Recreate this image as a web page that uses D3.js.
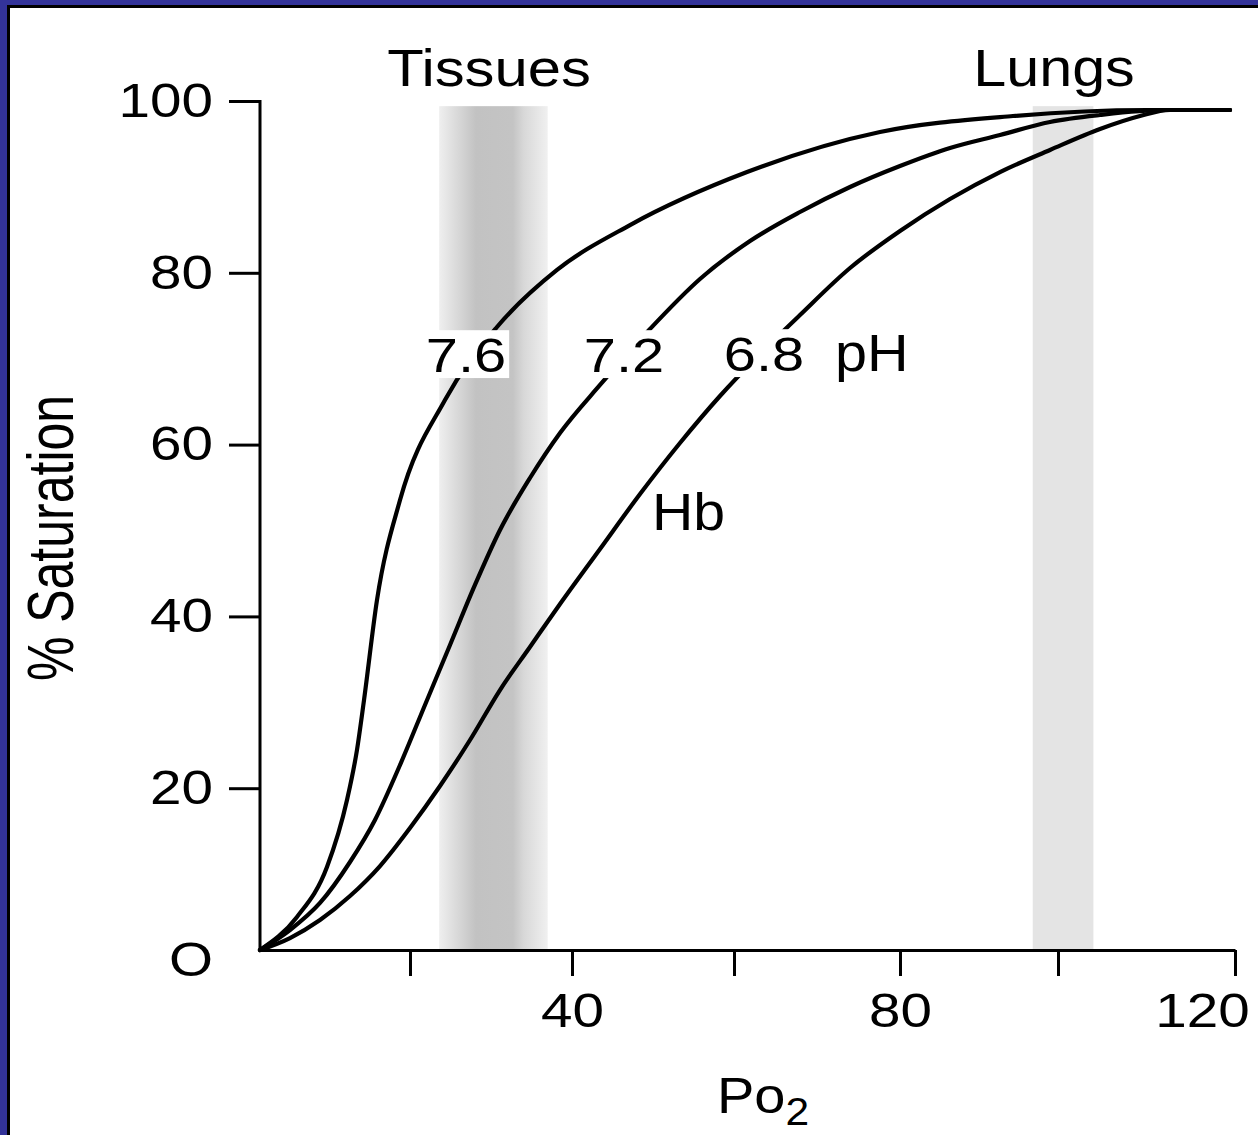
<!DOCTYPE html>
<html>
<head>
<meta charset="utf-8">
<script src="https://cdn.jsdelivr.net/npm/d3@7"></script>
<style>
    body { margin: 0; background: #fff; }
    svg { display: block; }
    text { font-family: "Liberation Sans", Arial, sans-serif; fill: #000; }
</style>
</head>
<body>
<svg id="chart"></svg>
<script>
/** Values (Po2 in mmHg, saturation in %) **/
var po2_ticks     = [0, 20, 40, 60, 80, 100, 120];
var po2_labelled  = [40, 80, 120];
var sat_ticks     = [0, 20, 40, 60, 80, 100];

var band_names = ["Tissues", "Lungs"];
var band_lo    = [23.6, 96.8];
var band_hi    = [37.0, 104.0];
var band_top   = 99.4;

// pH 7.6 (left curve)
var curve_ph76 = [[0,1.16],[4.93,5.01],[8.93,10.83],[11.6,18.63],[12.93,24.45],[13.87,30.27],
    [15.6,41.91],[18.67,53.55],[24.32,65.19],[30.74,73.69],[38.15,80.33],[47.16,85.56],
    [61.57,91.73],[77.59,96.39],[94.3,98.25],[110.06,98.95],[119.44,98.95]];

// pH 7.2 (middle curve)
var curve_ph72 = [[0,1.16],[4.0,3.49],[8.0,6.64],[12.0,11.41],[15.33,16.30],[18.67,22.70],
    [21.85,29.69],[24.94,36.67],[28.02,43.66],[31.11,50.06],[34.81,56.11],[38.52,61.35],
    [43.46,66.94],[49.63,73.46],[55.80,79.28],[61.93,83.70],[67.95,87.08],[73.98,89.99],
    [80.0,92.43],[86.33,94.53],[92.66,96.04],[98.99,97.56],[104.75,98.37],[112.09,98.95],
    [119.44,98.95]];

// pH 6.8 (right curve, "Hb")
var curve_ph68 = [[0,1.16],[4.0,2.56],[8.0,4.66],[12.0,7.45],[16.0,10.94],[20.0,15.37],
    [23.70,20.26],[27.41,25.61],[31.11,31.43],[34.81,36.44],[38.52,41.44],[43.46,47.85],
    [48.40,54.25],[53.33,60.19],[58.27,65.66],[63.13,70.55],[67.95,75.09],[73.98,80.56],
    [80.0,84.87],[86.33,88.59],[92.66,91.73],[98.99,94.30],[104.75,96.74],[109.27,98.25],
    [112.66,98.95],[119.44,98.95]];

var ph_labels = ["7.6", "7.2", "6.8"];


/** Layout **/
var W = 1258, H = 1135;
var X_KNOTS   = [260, 410, 572, 734, 900, 1058, 1235];   // hand-drawn axis spacing
var Y_RANGE   = [960, 101];
var X_AXIS_Y  = 950;
var SXN = 1.18;     // horizontal stretch of the figure's lettering (numbers)
var SXT = 1.13;     // ... (words)
var line_w = 4.2;


var svg = d3.select("#chart")
    .attr("width", W)
    .attr("height", H);

// frame
svg.append("rect")
    .attr("width", W).attr("height", H)
    .attr("fill", "#333399");
svg.append("rect")
    .attr("x", 8.5).attr("y", 6.5)
    .attr("width", W).attr("height", H)
    .attr("fill", "#fff")
    .attr("stroke", "#000")
    .attr("stroke-width", 3);

var x = d3.scaleLinear().domain(po2_ticks).range(X_KNOTS);
var y = d3.scaleLinear().domain([0, 100]).range(Y_RANGE);


// gradient for the tissue band
var grad = svg.append("defs").append("linearGradient")
    .attr("id", "tissueGrad")
    .attr("x1", "0%").attr("x2", "100%")
    .attr("y1", "0%").attr("y2", "0%");
[[0, "#efefef"], [0.34, "#c2c2c2"], [0.68, "#c4c4c4"], [0.78, "#d8d8d8"], [1, "#f0f0f0"]]
    .forEach(function (s) {
        grad.append("stop").attr("offset", s[0]).attr("stop-color", s[1]);
    });

var band_fill = ["url(#tissueGrad)", "#e4e4e4"];

svg.append("g").selectAll("rect")
    .data(band_names)
    .enter()
    .append("rect")
    .attr("x", function (d, i) { return x(band_lo[i]); })
    .attr("width", function (d, i) { return x(band_hi[i]) - x(band_lo[i]); })
    .attr("y", y(band_top))
    .attr("height", X_AXIS_Y - y(band_top))
    .attr("fill", function (d, i) { return band_fill[i]; });


// curves
var line = d3.line()
    .x(function (d) { return x(d[0]); })
    .y(function (d) { return y(d[1]); })
    .curve(d3.curveMonotoneX);

svg.append("g").selectAll("path")
    .data([curve_ph76, curve_ph72, curve_ph68])
    .enter()
    .append("path")
    .attr("d", line)
    .attr("fill", "none")
    .attr("stroke", "#000")
    .attr("stroke-width", line_w)
    .attr("stroke-linejoin", "round")
    .attr("stroke-linecap", "round");


// pH labels with white boxes that break the curves
var ph_pos = [[466, 372], [624, 372], [764, 371]];

ph_labels.forEach(function (lab, i) {
    var g = svg.append("g")
        .attr("transform", "translate(" + ph_pos[i][0] + "," + ph_pos[i][1] + ") scale(" + SXN + ",1)");
    var box = g.append("rect").attr("fill", "#fff");
    var t = g.append("text")
        .attr("text-anchor", "middle")
        .attr("font-size", 49)
        .text(lab);
    var bb = t.node().getBBox();
    box.attr("x", bb.x - 3 / SXN)
        .attr("width", bb.width + 6 / SXN)
        .attr("y", bb.y + 3)
        .attr("height", bb.height - 7);
});

function word(txt, px, py, size, anchor, sx) {
    return svg.append("text")
        .attr("transform", "translate(" + px + "," + py + ") scale(" + sx + ",1)")
        .attr("text-anchor", anchor)
        .attr("font-size", size)
        .text(txt);
}

word("pH", 835, 371, 51, "start", SXT);
word("Hb", 652, 530, 52, "start", 1.1);
word("Tissues", 489, 86, 52, "middle", 1.15);
word("Lungs", 1054, 86, 52, "middle", 1.14);

// x label Po2
var po = svg.append("text")
    .attr("transform", "translate(717,1113) scale(1.12,1)")
    .attr("font-size", 50);
po.append("tspan").text("Po");
po.append("tspan").attr("font-size", 38).attr("dy", 12).text("2");

// y label
svg.append("text")
    .attr("transform", "translate(73,538) scale(1.28,1) rotate(-90)")
    .attr("text-anchor", "middle")
    .attr("font-size", 50)
    .text("% Saturation");


// axes
var xAxis = d3.axisBottom(x)
    .tickValues(po2_ticks.slice(1))
    .tickSize(26)
    .tickPadding(17)
    .tickSizeOuter(0)
    .tickFormat(function (d) { return po2_labelled.indexOf(d) >= 0 ? d : ""; });

var gx = svg.append("g")
    .attr("transform", "translate(0," + X_AXIS_Y + ")")
    .call(xAxis);
gx.select(".domain").attr("stroke", "#000").attr("stroke-width", 3);
gx.selectAll(".tick line").attr("stroke", "#000").attr("stroke-width", 3);
gx.selectAll(".tick text")
    .attr("font-size", 48)
    .attr("transform", "scale(" + SXN + ",1)");
gx.selectAll(".tick text")
    .filter(function (d) { return d === 120; })
    .attr("x", -33 / SXN);

var yAxis = d3.axisLeft(y)
    .tickValues(sat_ticks)
    .tickSize(31)
    .tickSizeOuter(0)
    .tickFormat(function (d) { return d === 0 ? "O" : d; });

var gy = svg.append("g")
    .attr("transform", "translate(" + x(0) + ",0)")
    .call(yAxis);
gy.select(".domain").remove();
gy.selectAll(".tick line")
    .attr("stroke", "#000")
    .attr("stroke-width", 3)
    .filter(function (d) { return d === 0; })
    .remove();
gy.selectAll(".tick text")
    .attr("font-size", 48)
    .attr("x", -47 / SXN)
    .attr("transform", "scale(" + SXN + ",1)");

// y axis line, from the x axis up to 100
svg.append("line")
    .attr("x1", x(0)).attr("x2", x(0))
    .attr("y1", X_AXIS_Y + 1.5)
    .attr("y2", y(100) - 1)
    .attr("stroke", "#000")
    .attr("stroke-width", 3);
</script>
</body>
</html>
